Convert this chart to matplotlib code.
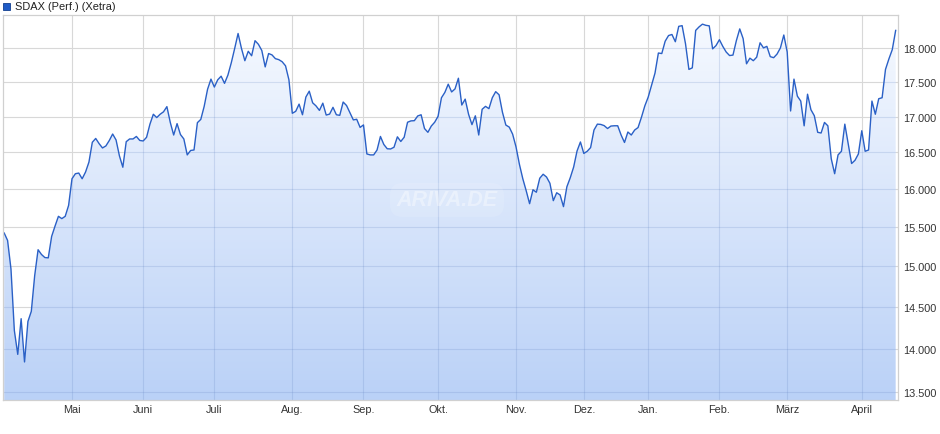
import numpy as np
import pandas as pd
import matplotlib
matplotlib.use("Agg")
import matplotlib.pyplot as plt
from matplotlib.patches import Polygon, Rectangle
from matplotlib.ticker import FixedLocator, NullLocator, FuncFormatter

plt.rcParams['font.family'] = ['Liberation Sans', 'DejaVu Sans']

# ---------------- data ----------------
title = "SDAX (Perf.) (Xetra)"
start_date = "2025-04-01"
end_date = "2026-04-17"
holidays = ["2025-04-18", "2025-04-21", "2025-05-01", "2025-12-24", "2025-12-25",
            "2025-12-26", "2025-12-31", "2026-01-01", "2026-04-03", "2026-04-06"]
month_labels = ["Mai", "Juni", "Juli", "Aug.", "Sep.", "Okt.", "Nov.", "Dez.",
                "Jan.", "Feb.", "März", "April"]
y_ticks = [13500, 14000, 14500, 15000, 15500, 16000, 16500, 17000, 17500, 18000]

values = [
    15423, 15328, 14967, 14215, 13935, 14357, 13847, 14324, 14446, 14885,
    15209, 15149, 15110, 15106, 15380, 15513, 15640, 15610, 15640, 15783,
    16139, 16207, 16216, 16139, 16230, 16365, 16639, 16692, 16620, 16560,
    16588, 16663, 16754, 16671, 16450, 16295, 16647, 16685, 16685, 16720,
    16664, 16657, 16708, 16893, 17033, 16986, 17033, 17068, 17142, 16917,
    16740, 16900, 16747, 16685, 16464, 16525, 16532, 16914, 16960, 17146,
    17393, 17541, 17425, 17531, 17584, 17479, 17600, 17783, 17997, 18223,
    17997, 17813, 17954, 17887, 18114, 18059, 17966, 17721, 17920, 17900,
    17844, 17829, 17798, 17737, 17531, 17047, 17075, 17178, 17026, 17280,
    17365, 17197, 17152, 17088, 17192, 17022, 17035, 17132, 17026, 17018,
    17208, 17158, 17057, 16953, 16962, 16847, 16882, 16477, 16464, 16464,
    16532, 16720, 16608, 16549, 16546, 16570, 16715, 16650, 16709, 16920,
    16939, 16942, 17009, 17026, 16831, 16778, 16866, 16920, 17004, 17270,
    17347, 17467, 17354, 17398, 17554, 17165, 17250, 17033, 16886, 17011,
    16740, 17104, 17146, 17113, 17270, 17358, 17313, 17061, 16880, 16851,
    16752, 16574, 16335, 16139, 15978, 15806, 15991, 15958, 16146, 16200,
    16162, 16078, 15846, 15951, 15922, 15767, 16031, 16153, 16298, 16518,
    16643, 16484, 16514, 16565, 16810, 16893, 16889, 16872, 16831, 16866,
    16870, 16870, 16740, 16636, 16782, 16740, 16810, 16845, 16990, 17153,
    17280, 17457, 17630, 17928, 17920, 18106, 18192, 18208, 18098, 18332,
    18343, 18067, 17684, 17707, 18270, 18324, 18366, 18348, 18340, 17990,
    18040, 18129, 18028, 17943, 17890, 17897, 18114, 18293, 18145, 17767,
    17851, 17813, 17866, 18082, 18005, 18028, 17874, 17858, 17912, 18005,
    18200, 17943, 17080, 17541, 17293, 17222, 16869, 17321, 17098, 17012,
    16778, 16768, 16917, 16869, 16410, 16207, 16464, 16514, 16893, 16615,
    16346, 16390, 16477, 16800, 16514, 16532, 17222, 17033, 17256, 17270,
    17684, 17839, 17979, 18270,
]

# ---------------- dates / positions ----------------
dates = pd.bdate_range(start_date, end_date)
dates = dates[~dates.isin(pd.to_datetime(holidays))]
n = min(len(dates), len(values))
dates = dates[:n]
vals = np.array(values[:n], dtype=float)
x = np.arange(n)

per = dates.to_period("M")
month_idx = [i for i in range(1, n) if per[i] != per[i - 1]]
month_idx = month_idx[:len(month_labels)]

# ---------------- figure ----------------
W, H = 940, 435
fig = plt.figure(figsize=(W / 100, H / 100), dpi=100)
L, R, T, B = 2.7, 897.7, 16.0, 401.3
ax = fig.add_axes([L / W, (H - B) / H, (R - L) / W, (B - T) / H])
ax.set_yscale("log")
ymin, ymax = 13410, 18507
xmin, xmax = -0.44, n - 1 + 0.6

# gradient fill under the line
top_c = np.array([247, 250, 255]) / 255
bot_c = np.array([186, 209, 247]) / 255
t = np.linspace(0, 1, 256).reshape(-1, 1, 1)
grad = top_c * (1 - t) + bot_c * t
im = ax.imshow(grad, extent=[0, 1, 0, 1], transform=ax.transAxes,
               aspect="auto", origin="upper", zorder=1.5,
               interpolation="bilinear")
poly_pts = [(x[0], 12000)] + list(zip(x, vals)) + [(x[-1], 12000)]
clip_poly = Polygon(poly_pts, closed=True, facecolor="none", edgecolor="none",
                    transform=ax.transData)
ax.add_patch(clip_poly)
im.set_clip_path(clip_poly)

# grid inside the filled area (bluish tint)
for yv in y_ticks:
    ln = ax.axhline(yv, color="#5d7fbf", alpha=0.2, lw=0.8, zorder=2)
    ln.set_clip_path(clip_poly)
for xi in month_idx:
    ln = ax.axvline(xi, color="#5d7fbf", alpha=0.2, lw=0.8, zorder=2)
    ln.set_clip_path(clip_poly)

ax.plot(x, vals, color="#2A60C6", lw=1.0, zorder=3, solid_joinstyle="round")

ax.set_xlim(xmin, xmax)
ax.set_ylim(ymin, ymax)

# axes styling
ax.yaxis.tick_right()
ax.yaxis.set_major_locator(FixedLocator(y_ticks))
ax.yaxis.set_minor_locator(NullLocator())
ax.yaxis.set_major_formatter(FuncFormatter(lambda v, p: f"{v:,.0f}".replace(",", ".")))
ax.set_xticks(month_idx)
ax.set_xticklabels(month_labels)
ax.xaxis.set_minor_locator(NullLocator())
ax.tick_params(axis="y", length=0, pad=4, labelsize=7.8, labelcolor="#333333")
ax.tick_params(axis="x", length=0, pad=3, labelsize=7.8, labelcolor="#333333")

ax.grid(True, color="#d8d8d8", lw=0.8, zorder=1)
ax.set_axisbelow(True)
for s in ax.spines.values():
    s.set_color("#d0d0d0")
    s.set_linewidth(0.9)
    s.set_zorder(4)

# watermark
ax.text((447 - L) / (R - L), (B - 201) / (B - T), "ARIVA.DE", transform=ax.transAxes,
        ha="center", va="center", fontsize=15.5, fontstyle="italic", fontweight="bold",
        color="white", alpha=0.38, zorder=2.2,
        bbox=dict(boxstyle="round,pad=0.3,rounding_size=0.6", facecolor="white",
                  edgecolor="none", alpha=0.12))

# legend
fig.patches.append(Rectangle((3 / W, (H - 10.5) / H), 7 / W, 7 / H,
                             transform=fig.transFigure, facecolor="#1F5BC6",
                             edgecolor="#123f8f", lw=0.6))
fig.text(15 / W, (H - 7) / H, title, ha="left", va="center", fontsize=7.9,
         color="#222222")

fig.savefig("out.png", dpi=100)
